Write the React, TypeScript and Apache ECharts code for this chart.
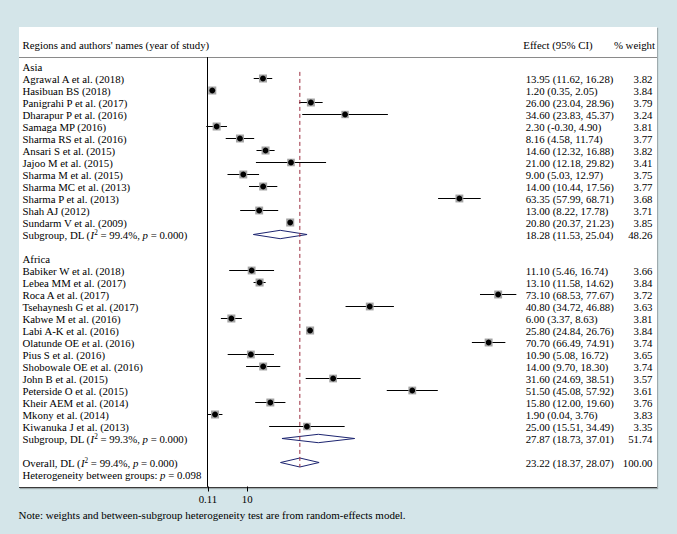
import React, { useEffect, useRef } from 'react';
import * as echarts from 'echarts';

// ---------------- data ----------------
const asiaNames = [
  'Agrawal A et al. (2018)', 'Hasibuan BS (2018)', 'Panigrahi P et al. (2017)', 'Dharapur P et al. (2016)',
  'Samaga MP (2016)', 'Sharma RS et al. (2016)', 'Ansari S et al. (2015)', 'Jajoo M et al. (2015)',
  'Sharma M et al. (2015)', 'Sharma MC et al. (2013)', 'Sharma P et al. (2013)', 'Shah AJ (2012)',
  'Sundarm V et al. (2009)',
];
const asiaEst = [13.95, 1.2, 26.0, 34.6, 2.3, 8.16, 14.6, 21.0, 9.0, 14.0, 63.35, 13.0, 20.8];
const asiaLo = [11.62, 0.35, 23.04, 23.83, -0.3, 4.58, 12.32, 12.18, 5.03, 10.44, 57.99, 8.22, 20.37];
const asiaHi = [16.28, 2.05, 28.96, 45.37, 4.9, 11.74, 16.88, 29.82, 12.97, 17.56, 68.71, 17.78, 21.23];
const asiaWt = [3.82, 3.84, 3.79, 3.24, 3.81, 3.77, 3.82, 3.41, 3.75, 3.77, 3.68, 3.71, 3.85];

const africaNames = [
  'Babiker W et al. (2018)', 'Lebea MM et al. (2017)', 'Roca A et al. (2017)', 'Tsehaynesh G et al. (2017)',
  'Kabwe M et al. (2016)', 'Labi A-K et al. (2016)', 'Olatunde OE et al. (2016)', 'Pius S et al. (2016)',
  'Shobowale OE et al. (2016)', 'John B et al. (2015)', 'Peterside O et al. (2015)', 'Kheir AEM et al. (2014)',
  'Mkony et al. (2014)', 'Kiwanuka J et al. (2013)',
];
const africaEst = [11.1, 13.1, 73.1, 40.8, 6.0, 25.8, 70.7, 10.9, 14.0, 31.6, 51.5, 15.8, 1.9, 25.0];
const africaLo = [5.46, 11.58, 68.53, 34.72, 3.37, 24.84, 66.49, 5.08, 9.7, 24.69, 45.08, 12.0, 0.04, 15.51];
const africaHi = [16.74, 14.62, 77.67, 46.88, 8.63, 26.76, 74.91, 16.72, 18.3, 38.51, 57.92, 19.6, 3.76, 34.49];
const africaWt = [3.66, 3.84, 3.72, 3.63, 3.81, 3.84, 3.74, 3.65, 3.74, 3.57, 3.61, 3.76, 3.83, 3.35];

const regionNames = ['Asia', 'Africa'];
const subgroupEst = [18.28, 27.87];
const subgroupLo = [11.53, 18.73];
const subgroupHi = [25.04, 37.01];
const subgroupWt = [48.26, 51.74];
const subgroupI2 = ['99.4%', '99.3%'];
const subgroupP = ['0.000', '0.000'];

const overallEst = 23.22;
const overallLo = 18.37;
const overallHi = 28.07;
const overallWt = 100.0;
const overallI2 = '99.4%';
const overallP = '0.000';
const heterogeneityP = '0.098';

const xTickValues = [0.11, 10];
const xTickLabels = ['0.11', '10'];

// ---------------- layout / style ----------------
const FONT = '"Liberation Serif", "DejaVu Serif", serif';
const FS = 10.8;
const TXT = '#000000';
const LABEL_X = 22.5;
const EFFECT_X = 525.7;
const WEIGHT_RIGHT = 652.5;
const DIAMOND = '#1c2470';
const BOXFILL = '#a3a3a3';
const REFLINE = '#9b2d3f';

type Row = {
  kind: 'label' | 'study' | 'pooled' | 'overall';
  row: number;
  text: string;
  est: number;
  lo: number;
  hi: number;
  wt: number;
};

const rows: Row[] = [];
let r = 0;
const groups = [
  { names: asiaNames, est: asiaEst, lo: asiaLo, hi: asiaHi, wt: asiaWt },
  { names: africaNames, est: africaEst, lo: africaLo, hi: africaHi, wt: africaWt },
];
groups.forEach((g, gi) => {
  rows.push({ kind: 'label', row: r++, text: regionNames[gi], est: 0, lo: 0, hi: 0, wt: 0 });
  g.names.forEach((n, i) => {
    rows.push({ kind: 'study', row: r++, text: n, est: g.est[i], lo: g.lo[i], hi: g.hi[i], wt: g.wt[i] });
  });
  rows.push({
    kind: 'pooled', row: r++,
    text: `Subgroup, DL ({i|I}{s|2} = ${subgroupI2[gi]}, {i|p} = ${subgroupP[gi]})`,
    est: subgroupEst[gi], lo: subgroupLo[gi], hi: subgroupHi[gi], wt: subgroupWt[gi],
  });
  r++; // blank row
});
rows.push({
  kind: 'overall', row: r++,
  text: `Overall, DL ({i|I}{s|2} = ${overallI2}, {i|p} = ${overallP})`,
  est: overallEst, lo: overallLo, hi: overallHi, wt: overallWt,
});
rows.push({ kind: 'label', row: r++, text: `Heterogeneity between groups: {i|p} = ${heterogeneityP}`, est: 0, lo: 0, hi: 0, wt: 0 });
const firstStudyRow = 1;

const richStyles = {
  i: { fontStyle: 'italic', fontSize: FS, fontFamily: FONT, fill: TXT },
  s: { fontSize: 7.2, fontFamily: FONT, fill: TXT, verticalAlign: 'top', padding: [0, 0, 4, 0] },
};

const fmt = (v: number) => v.toFixed(2);

function renderItem(params: any, api: any) {
  const row = rows[params.dataIndex];
  const [, cy] = api.coord([0, row.row]);
  const children: any[] = [];
  const textStyle = (text: string, extra: any = {}) => ({
    text, fontSize: FS, fontFamily: FONT, fill: TXT, verticalAlign: 'middle', align: 'left', rich: richStyles, ...extra,
  });
  children.push({ type: 'text', x: LABEL_X, y: cy, style: textStyle(row.text) });
  if (row.kind !== 'label') {
    children.push({ type: 'text', x: EFFECT_X, y: cy, style: textStyle(`${fmt(row.est)} (${fmt(row.lo)}, ${fmt(row.hi)})`) });
    children.push({ type: 'text', x: WEIGHT_RIGHT, y: cy, style: textStyle(fmt(row.wt), { align: 'right' }) });
  }
  if (row.kind === 'study') {
    const [x0] = api.coord([row.lo, row.row]);
    const [x1] = api.coord([row.hi, row.row]);
    const [cx] = api.coord([row.est, row.row]);
    const side = 4.1 * Math.sqrt(row.wt);
    children.push({ type: 'line', shape: { x1: x0, y1: cy, x2: x1, y2: cy }, style: { stroke: '#000', lineWidth: 1 } });
    children.push({ type: 'rect', shape: { x: cx - side / 2, y: cy - side / 2, width: side, height: side }, style: { fill: BOXFILL } });
    children.push({ type: 'circle', shape: { cx, cy, r: 2.9 }, style: { fill: '#000' } });
  }
  if (row.kind === 'pooled' || row.kind === 'overall') {
    const [x0] = api.coord([row.lo, row.row]);
    const [x1] = api.coord([row.hi, row.row]);
    const [cx] = api.coord([row.est, row.row]);
    const h = row.kind === 'overall' ? 4.5 : 4.2;
    children.push({
      type: 'polygon',
      shape: { points: [[x0, cy], [cx, cy - h], [x1, cy], [cx, cy + h]] },
      style: { fill: '#fff', stroke: DIAMOND, lineWidth: 1 },
    });
  }
  if (row.kind === 'overall') {
    const [cx, yTop] = api.coord([row.est, firstStudyRow - 0.55]);
    children.push({
      type: 'line',
      shape: { x1: cx, y1: yTop, x2: cx, y2: cy + 4.5 },
      style: { stroke: REFLINE, lineWidth: 1, lineDash: [4, 3] },
    });
  }
  return { type: 'group', children };
}

export default function App() {
  const ref = useRef<HTMLDivElement>(null);
  useEffect(() => {
    document.body.style.margin = '0';
    if (!ref.current) return;
    const chart = echarts.init(ref.current, undefined, { renderer: 'svg' });
    chart.setOption({
      animation: false,
      backgroundColor: 'transparent',
      grid: { left: 199.55, right: 151.4, top: 57.5, bottom: 47.5, containLabel: false },
      xAxis: {
        type: 'value',
        min: -2,
        max: 80,
        axisLine: { show: false, onZero: false },
        splitLine: { show: false },
        axisTick: { show: true, length: 5, customValues: xTickValues, lineStyle: { color: '#000', width: 1 } },
        axisLabel: {
          show: true,
          margin: 7,
          customValues: xTickValues,
          formatter: (v: number) => xTickLabels[xTickValues.indexOf(v)] ?? '',
          fontFamily: FONT,
          fontSize: FS,
          color: TXT,
        },
      },
      yAxis: {
        type: 'value',
        inverse: true,
        min: -0.75,
        max: 35,
        axisLine: { show: true, onZero: true, lineStyle: { color: '#000', width: 1 } },
        axisTick: { show: false },
        axisLabel: { show: false },
        splitLine: { show: false },
      },
      graphic: [
        {
          type: 'text', left: LABEL_X, top: 39,
          style: { text: "Regions and authors' names (year of study)", fontSize: FS, fontFamily: FONT, fill: TXT },
        },
        {
          type: 'text', left: 523.3, top: 39,
          style: { text: 'Effect (95% CI)', fontSize: FS, fontFamily: FONT, fill: TXT },
        },
        {
          type: 'text', right: 677 - 655, top: 39,
          style: { text: '% weight', fontSize: FS, fontFamily: FONT, fill: TXT },
        },
        {
          type: 'line', shape: { x1: 19, y1: 57.5, x2: 657, y2: 57.5 },
          style: { stroke: '#8a8a8a', lineWidth: 1 },
        },
        {
          type: 'text', left: 18.5, top: 509.5,
          style: {
            text: 'Note: weights and between-subgroup heterogeneity test are from random-effects model.',
            fontSize: 11, fontFamily: FONT, fill: TXT,
          },
        },
      ],
      series: [
        {
          type: 'custom',
          clip: false,
          renderItem,
          data: rows.map((x) => [x.est, x.row]),
        },
      ],
    });
    return () => chart.dispose();
  }, []);
  return (
    <div style={{ position: 'relative', width: 677, height: 534, background: '#d4e5e9', overflow: 'hidden' }}>
      <div
        style={{
          position: 'absolute', left: 19, top: 27, width: 638, height: 459.5, background: '#fff',
          borderBottom: '1.5px solid #3a3a3a', boxShadow: '1px 1px 1px rgba(0,0,0,0.25)',
        }}
      />
      <div ref={ref} style={{ position: 'absolute', left: 0, top: 0, width: 677, height: 534 }} />
    </div>
  );
}
